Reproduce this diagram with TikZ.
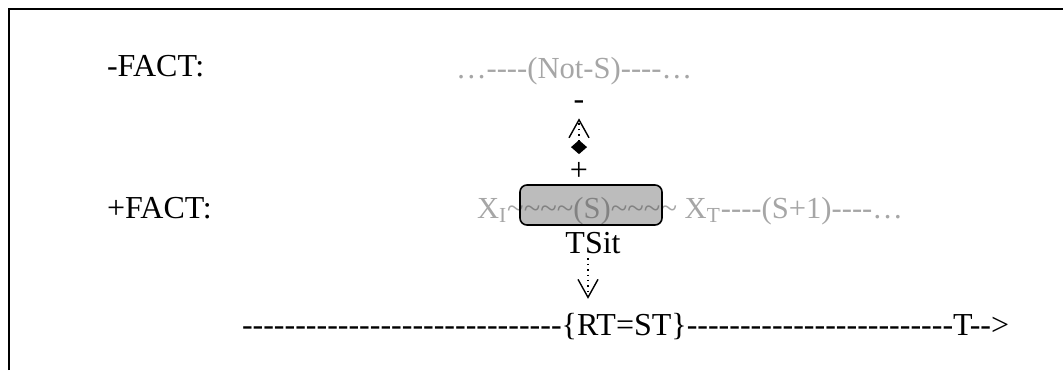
\documentclass[tikz,border=0pt]{standalone}
\usepackage{fontspec}
\setmainfont{Liberation Serif}
\usetikzlibrary{arrows.meta,positioning}
\definecolor{fadedtxt}{RGB}{166,166,166}
\newcommand{\hyph}[1]{\foreach\k in {1,...,#1}{-{}}}
\newcommand{\wave}[1]{\foreach\k in {1,...,#1}{\textasciitilde}}
\tikzset{
  lbl/.style={inner sep=0,outer sep=0,font=\fontsize{16}{19}\selectfont},
  faded/.style={lbl,font=\fontsize{15.3}{18}\selectfont,text=fadedtxt},
  sitbox/.style={rectangle,rounded corners=3.5pt,draw,line width=.8pt,fill=black!75,fill opacity=.35,text opacity=1,minimum width=71pt,minimum height=20pt},
  link/.style={dotted,line width=.7pt},
}
\begin{document}
\begin{tikzpicture}[x=.5pt,y=-.5pt]
\useasboundingbox (0,0) rectangle (1063,370);
\draw[line width=1.2pt] (9,370) -- (9,9) -- (1063,9);
\draw (107,76) node[lbl,anchor=base west] (negfact) {-FACT:};
\draw (107,218) node[lbl,anchor=base west] (posfact) {+FACT:};
\draw (456,78) node[faded,anchor=base west] (notS) {…\hyph{4}(Not-S)\hyph{4}…};
\draw (477,218) node[faded,anchor=base west] (acts) {X\textsubscript{I}\wave{4}(S)\wave{4} X\textsubscript{T}\hyph{4}(S+1)\hyph{4}…};
\draw (591,205) node[sitbox] (sit) {};
\node[lbl,above=2pt of sit,xshift=-6pt] (plus) {+};
\draw (579,105) node[lbl] (minus) {-};
\draw[link,shorten <=4pt,shorten >=4.5pt,{Diamond[length=7pt,width=8pt]}-{Straight Barb[length=9pt,width=10pt]}] (plus.north) -- (minus.south);
\draw (593,253) node[lbl,anchor=base] (tsit) {TSit};
\draw (242,335) node[lbl,anchor=base west] (tlL) {\hyph{30}};
\node[lbl,anchor=base west] (rtst) at (tlL.base east) {\{RT=ST\}};
\node[lbl,anchor=base west] (tlR) at (rtst.base east) {\hyph{25}T\hyph{2}>};
\draw[link,shorten <=2.5pt,shorten >=7pt,-{Straight Barb[length=9pt,width=10pt]}] ([xshift=-2.5pt]tsit.south) -- ([xshift=-2.5pt]tsit.south |- rtst.north);
\end{tikzpicture}
\end{document}
